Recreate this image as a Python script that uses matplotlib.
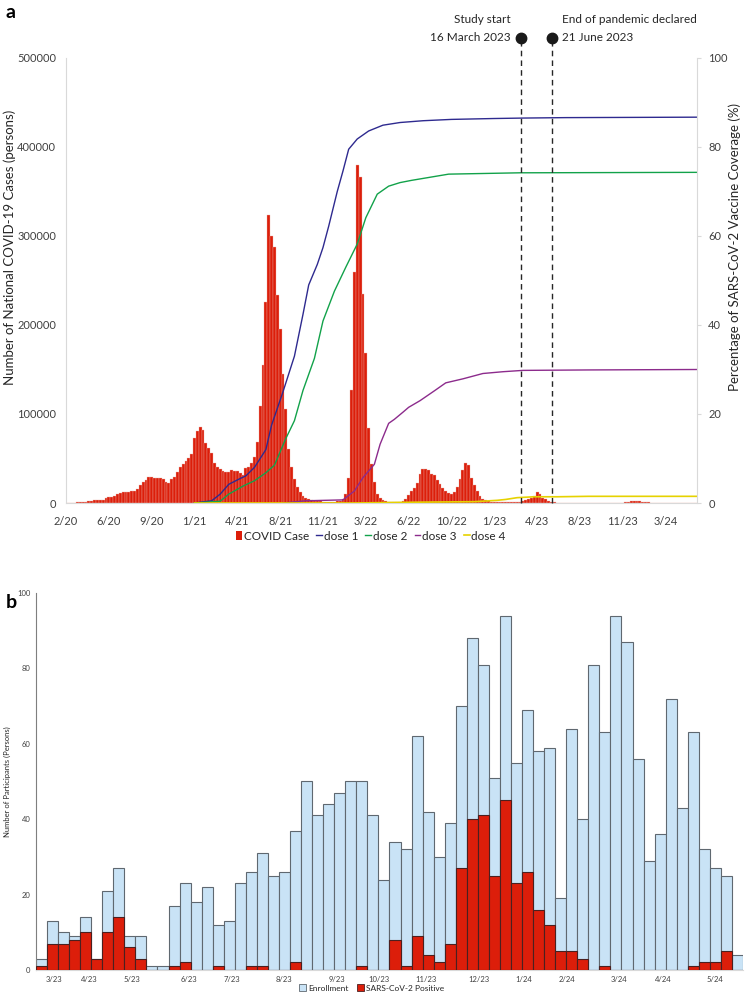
import matplotlib
matplotlib.use('Agg')
import matplotlib.pyplot as plt
import numpy as np
from matplotlib.patches import Patch
from matplotlib.lines import Line2D

plt.rcParams['font.family'] = ['Lato', 'DejaVu Sans']

# ---- panel a: weekly national cases (week 0 = end of Feb 2020) ----
cases = [0, 0, 300, 500, 700, 1000, 1500, 1600, 1800, 2000,
         3000, 3500, 3600, 3800, 6000, 6800, 7200, 8000, 10000, 11000,
         12000, 12500, 12800, 13000, 14000, 16000, 20500, 23500, 26000, 29500,
         29000, 28500, 28500, 28000, 26500, 24000, 22500, 27000, 29600, 34500,
         40000, 43800, 47000, 50500, 55000, 73000, 81000, 85800, 81500, 67000,
         62000, 56000, 45500, 41000, 38500, 36500, 35000, 35300, 36800, 36500,
         35500, 33300, 31500, 39500, 40500, 45000, 52000, 69000, 109000, 155000,
         226000, 324000, 300000, 288000, 234000, 196000, 145500, 105600, 61000, 40500,
         27000, 18000, 12000, 8000, 6000, 4500, 3400, 2600, 2200, 1900,
         1500, 1500, 1100, 1100, 1500, 1900, 2200, 4100, 10100, 28000,
         127000, 260000, 380000, 366000, 235000, 169000, 84000, 43800, 23200, 10100,
         5600, 3400, 1900, 1100, 800, 800, 800, 1100, 2000, 4300,
         9000, 13500, 17200, 22800, 32200, 37800, 37800, 36700, 33000, 31000,
         25500, 21700, 17200, 13500, 10900, 9700, 12400, 18000, 26600, 36700,
         45300, 42300, 28500, 20200, 13500, 7900, 4900, 3400, 2200, 1500,
         1100, 1100, 750, 750, 750, 1100, 1500, 1100, 750, 1500,
         2200, 3700, 4900, 6000, 8200, 12000, 9700, 6000, 4100, 2200,
         1100, 750, 400, 300, 250, 200, 200, 150, 150, 150,
         150, 150, 150, 150, 150, 150, 150, 200, 200, 200,
         250, 300, 300, 350, 400, 500, 700, 1200, 1800, 2200,
         2300, 2000, 1500, 900, 600, 400, 300, 250, 200, 150,
         150, 150, 150, 100, 100, 100, 100, 100, 100, 100,
         100, 100]

tick_labels_a = ['2/20', '6/20', '9/20', '1/21', '4/21', '8/21', '11/21', '3/22',
                 '6/22', '10/22', '1/23', '4/23', '8/23', '11/23', '3/24']
tick_weeks_a = list(range(0, 211, 15))

dose1_wk = [45, 51, 54, 57, 61, 63, 66, 70, 72, 76, 80, 83, 85, 88, 90, 92, 95, 97, 99,
            102, 106, 111, 117, 125, 135, 150, 160, 175, 221]
dose1_pct = [0, 0.5, 2.0, 4.2, 5.5, 6.1, 8.0, 12, 17.5, 25, 33, 42.4, 49, 53.6, 57.4, 62.2,
             70, 74.6, 79.5, 81.8, 83.6, 84.9, 85.5, 85.9, 86.2, 86.4, 86.5, 86.6, 86.7]
dose2_wk = [45, 54, 57, 62, 66, 70, 73, 77, 80, 83, 87, 90, 94, 98, 102, 105, 109, 113,
            117, 121, 134, 159, 221]
dose2_pct = [0, 0.4, 2.0, 3.8, 5.0, 6.8, 8.5, 14.5, 18.5, 25.3, 32.5, 40.9, 47.6, 53, 58.2,
             64.1, 69.4, 71.2, 72, 72.5, 73.9, 74.2, 74.3]
dose3_wk = [76, 84, 97, 101, 104, 108, 110, 113, 115, 118, 120, 124, 129, 133, 139, 146,
            153, 160, 183, 221]
dose3_pct = [0, 0.5, 0.7, 2.7, 5.7, 8.7, 13.2, 17.9, 18.8, 20.4, 21.5, 23, 25.2, 27, 27.9,
             29.1, 29.5, 29.8, 29.9, 30]
dose4_wk = [45, 100, 125, 143, 151, 154, 158, 164, 172, 183, 221]
dose4_pct = [0, 0, 0.2, 0.3, 0.6, 0.8, 1.2, 1.4, 1.4, 1.5, 1.5]

study_start_wk = 159.2
pandemic_end_wk = 170.1

# ---- panel b: weekly enrollment ----
enrollment = [3, 13, 10, 9, 14, 3, 21, 27, 9, 9, 1, 1, 17, 23, 18, 22, 12, 13, 23, 26,
              31, 25, 26, 37, 50, 41, 44, 47, 50, 50, 41, 24, 34, 32, 62, 42, 30, 39, 70, 88,
              81, 51, 94, 55, 69, 58, 59, 19, 64, 40, 81, 63, 94, 87, 56, 29, 36, 72, 43, 63,
              32, 27, 25, 4]
positive = [1, 7, 7, 8, 10, 3, 10, 14, 6, 3, 0, 0, 1, 2, 0, 0, 1, 0, 0, 1,
            1, 0, 0, 2, 0, 0, 0, 0, 0, 1, 0, 0, 8, 1, 9, 4, 2, 7, 27, 40,
            41, 25, 45, 23, 26, 16, 12, 5, 5, 3, 0, 1, 0, 0, 0, 0, 0, 0, 0, 1,
            2, 2, 5, 0]
month_labels_b = ['3/23', '4/23', '5/23', '6/23', '7/23', '8/23', '9/23', '10/23',
                  '11/23', '12/23', '1/24', '2/24', '3/24', '4/24', '5/24']
month_pos_b = [1.63, 4.8, 8.69, 13.85, 17.74, 22.44, 27.24, 31.04, 35.29, 40.09,
               44.16, 48.05, 52.76, 56.74, 61.45]

red = '#DC1E0A'
grid_c = '#D9D9D9'
txt_c = '#404040'

fig = plt.figure(figsize=(7.45, 10.05), dpi=100)

# ================= panel a =================
ax = fig.add_axes([0.0886, 0.4995, 0.847, 0.4428])
weeks = np.arange(len(cases))
ax.bar(weeks, cases, width=1.0, color=red, edgecolor='#EBB0A8', linewidth=0.25, zorder=1)
ax.set_xlim(0, 221)
ax.set_ylim(0, 500000)
ax.set_yticks(np.arange(0, 500001, 100000))
ax.set_xticks(tick_weeks_a)
ax.set_xticklabels(tick_labels_a)
ax.tick_params(axis='both', length=0, labelsize=8, colors=txt_c, pad=7)
ax.tick_params(axis='x', pad=9)
for s in ['top', 'right']:
    ax.spines[s].set_visible(False)
for s in ['left', 'bottom']:
    ax.spines[s].set_color(grid_c)
ax.set_ylabel('Number of National COVID-19 Cases (persons)', fontsize=9.5, color='#262626')
ax.yaxis.set_label_coords(-0.08, 0.575)

ax2 = ax.twinx()
ax2.plot(dose1_wk, dose1_pct, color='#2E2A8F', lw=1.0)
ax2.plot(dose2_wk, dose2_pct, color='#12A24A', lw=1.0)
ax2.plot(dose3_wk, dose3_pct, color='#8C2B8C', lw=1.0)
ax2.plot(dose4_wk, dose4_pct, color='#E6D200', lw=1.2)
ax2.set_ylim(0, 100)
ax2.set_yticks(np.arange(0, 101, 20))
ax2.tick_params(axis='y', length=3, labelsize=8, colors=txt_c, pad=5)
ax2.tick_params(axis='y', color=grid_c)
for s in ['top', 'left', 'bottom']:
    ax2.spines[s].set_visible(False)
ax2.spines['right'].set_color(grid_c)
ax2.set_ylabel('Percentage of SARS-CoV-2 Vaccine Coverage (%)', fontsize=9.5,
               color='#262626', rotation=90)
ax2.yaxis.set_label_coords(1.05, 0.575)

# study period markers
for wk in [study_start_wk, pandemic_end_wk]:
    ax2.plot([wk, wk], [0, 104.5], ls=(0, (4, 3)), color='#262626', lw=1.0,
             clip_on=False, zorder=5)
    ax2.plot([wk], [104.5], 'o', color='#1a1a1a', ms=7.5, clip_on=False, zorder=6)
ax2.text(study_start_wk - 3.5, 108.6, 'Study start', ha='right', va='center',
         fontsize=8.5, color='#262626')
ax2.text(study_start_wk - 3.5, 104.5, '16 March 2023', ha='right', va='center',
         fontsize=8.5, color='#262626')
ax2.text(pandemic_end_wk + 3.5, 108.6, 'End of pandemic declared', ha='left', va='center',
         fontsize=8.5, color='#262626')
ax2.text(pandemic_end_wk + 3.5, 104.5, '21 June 2023', ha='left', va='center',
         fontsize=8.5, color='#262626')

handles_a = [Patch(facecolor=red, edgecolor='none'),
             Line2D([], [], color='#2E2A8F', lw=1.0),
             Line2D([], [], color='#12A24A', lw=1.0),
             Line2D([], [], color='#8C2B8C', lw=1.0),
             Line2D([], [], color='#E6D200', lw=1.2)]
fig.legend(handles_a, ['COVID Case', 'dose 1', 'dose 2', 'dose 3', 'dose 4'],
           loc='center', bbox_to_anchor=(0.498, 1 - 536 / 1005), ncol=5, frameon=False,
           fontsize=8.5, handlelength=0.5, handleheight=0.9, handletextpad=0.15,
           columnspacing=0.6, labelcolor='#262626')

fig.text(0.008, 0.988, 'a', fontsize=14, fontweight='bold', va='center')

# ================= panel b =================
bx = fig.add_axes([0.0483, 0.0348, 0.949, 0.3752])
pos = np.arange(len(enrollment)) + 0.5
bx.bar(pos, enrollment, width=1.0, color='#C9E3F6', edgecolor='#5F6870', linewidth=0.8,
       zorder=2)
bx.bar(pos, positive, width=1.0, color=red, edgecolor='#4A2020', linewidth=0.8, zorder=3)
bx.set_xlim(0, len(enrollment))
bx.set_ylim(0, 100)
bx.set_yticks(np.arange(0, 101, 20))
bx.set_xticks(month_pos_b)
bx.set_xticklabels(month_labels_b)
bx.tick_params(axis='both', length=0, labelsize=5.5, colors=txt_c, pad=4)
for s in ['top', 'right']:
    bx.spines[s].set_visible(False)
bx.spines['left'].set_color('#7F7F7F')
bx.spines['bottom'].set_color(grid_c)
bx.set_ylabel('Number of Participants (Persons)', fontsize=5.5, color='#262626')
bx.yaxis.set_label_coords(-0.035, 0.5)

handles_b = [Patch(facecolor='#C9E3F6', edgecolor='#5F6870', lw=0.6),
             Patch(facecolor=red, edgecolor='#4A2020', lw=0.6)]
fig.legend(handles_b, ['Enrollment', 'SARS-CoV-2 Positive'], loc='center',
           bbox_to_anchor=(372 / 745, 1 - 988 / 1005), ncol=2, frameon=False,
           fontsize=6, handlelength=0.8, handleheight=0.8, handletextpad=0.3,
           columnspacing=1.0, labelcolor='#262626')

fig.text(0.008, 1 - 603 / 1005, 'b', fontsize=14, fontweight='bold', va='center')

fig.savefig('out.png', dpi=100)
